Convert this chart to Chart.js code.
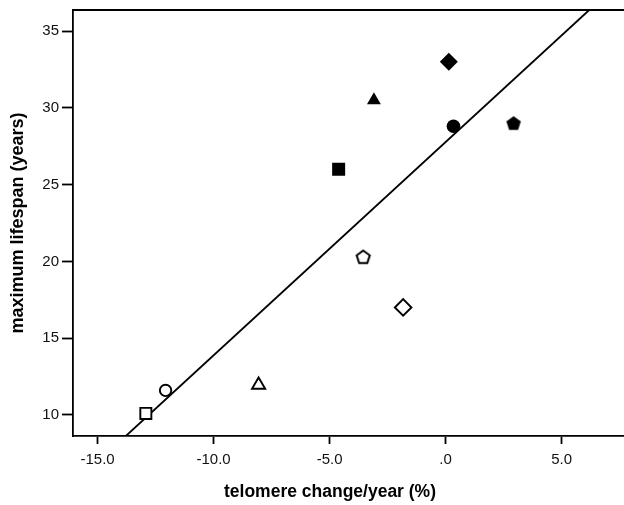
<!DOCTYPE html>
<html>
<head>
<meta charset="utf-8">
<script src="https://cdn.jsdelivr.net/npm/chart.js@4/dist/chart.umd.min.js"></script>
<style>
    html, body { margin: 0; padding: 0; background: #fff; overflow: hidden; }
    #wrap { width: 624px; height: 505px; }
</style>
</head>
<body>
<div id="wrap"><canvas id="scatter" width="624" height="505"></canvas></div>
<script>
// values
const telomereChange = [-12.92, -12.07, -8.06, -3.55, -1.83, -4.61, -3.09, 0.14, 0.34, 2.93];
const maxLifespan = [10.1, 11.6, 11.95, 20.3, 17.0, 26.0, 30.5, 33.0, 28.8, 29.0];
const fitLineX = [-13.78, 6.19];
const fitLineY = [8.63, 36.37];
const xTicks = [-15, -10, -5, 0, 5];
const xTickLabels = ['-15.0', '-10.0', '-5.0', '.0', '5.0'];
const yTicks = [10, 15, 20, 25, 30, 35];
const xTitle = 'telomere change/year (%)';
const yTitle = 'maximum lifespan (years)';

// marker look for each point (same order as the values)
const markerShape = ['rect', 'circle', 'triangle', 'pentagon', 'rectRot', 'rect', 'triangle', 'rectRot', 'circle', 'pentagon'];
const markerFilled = [false, false, false, false, false, true, true, true, true, true];
const markerRadius = [7.8, 5.7, 7.6, 7.5, 8.3, 9.2, 8, 9, 6.8, 7.6];

function makePentagon(R, filled) {
    const c = document.createElement('canvas');
    c.width = 20;
    c.height = 20;
    const g = c.getContext('2d');
    const cx = 10, cy = 10 + 0.095 * R;
    g.beginPath();
    for (let i = 0; i < 5; i++) {
        const a = -Math.PI / 2 + i * 2 * Math.PI / 5;
        const px = cx + R * Math.cos(a), py = cy + R * Math.sin(a);
        if (i === 0) g.moveTo(px, py); else g.lineTo(px, py);
    }
    g.closePath();
    if (filled) {
        g.fillStyle = '#000';
        g.fill();
    } else {
        g.fillStyle = '#fff';
        g.fill();
        g.lineWidth = 2;
        g.strokeStyle = '#000';
        g.stroke();
    }
    return c;
}

const datasets = [];
for (let i = 0; i < telomereChange.length; i++) {
    let style = markerShape[i];
    if (style === 'pentagon') {
        style = makePentagon(markerRadius[i] - (markerFilled[i] ? 0 : 0.6), markerFilled[i]);
    }
    datasets.push({
        data: [{ x: telomereChange[i], y: maxLifespan[i] }],
        pointStyle: style,
        pointRadius: markerRadius[i],
        pointBackgroundColor: markerFilled[i] ? '#000' : '#fff',
        pointBorderColor: '#000',
        pointBorderWidth: markerFilled[i] ? 0 : 1.9
    });
}
datasets.push({
    data: fitLineX.map((x, i) => ({ x: x, y: fitLineY[i] })),
    showLine: true,
    borderColor: '#000',
    borderWidth: 1.8,
    pointRadius: 0
});

const frame = {
    id: 'frame',
    afterDraw(chart) {
        const ctx = chart.ctx;
        const a = chart.chartArea;
        ctx.save();
        ctx.strokeStyle = '#000';
        ctx.lineWidth = 1.8;
        ctx.beginPath();
        ctx.moveTo(a.left, a.top);
        ctx.lineTo(a.right, a.top);
        ctx.stroke();
        // x axis title (centred like the original figure)
        ctx.fillStyle = '#000';
        ctx.font = 'bold 17.5px "Liberation Sans", Arial, sans-serif';
        ctx.textAlign = 'center';
        ctx.textBaseline = 'middle';
        ctx.fillText(xTitle, 330, 492);
        ctx.restore();
    }
};

const tickFont = { family: '"Liberation Sans", Arial, sans-serif', size: 15 };

new Chart(document.getElementById('scatter'), {
    type: 'scatter',
    data: { datasets: datasets },
    options: {
        responsive: false,
        animation: false,
        layout: { autoPadding: false, padding: { top: 10, right: 0, bottom: 0, left: 0 } },
        plugins: { legend: { display: false }, tooltip: { enabled: false } },
        scales: {
            x: {
                min: -16.06,
                max: 7.69,
                afterBuildTicks: (scale) => { scale.ticks = xTicks.map(v => ({ value: v })); },
                afterFit: (scale) => { scale.height = 69; scale.paddingLeft = 0; scale.paddingRight = 0; },
                ticks: {
                    font: tickFont,
                    color: '#111',
                    padding: 7,
                    maxRotation: 0,
                    callback: (v) => xTickLabels[xTicks.indexOf(v)]
                },
                grid: { drawOnChartArea: false, drawTicks: true, tickLength: 8, tickColor: '#000', tickWidth: 1.8 },
                border: { display: true, color: '#000', width: 1.8 }
            },
            y: {
                min: 8.63,
                max: 36.37,
                afterBuildTicks: (scale) => { scale.ticks = yTicks.map(v => ({ value: v })); },
                afterFit: (scale) => { scale.width = 73; scale.paddingTop = 0; scale.paddingBottom = 0; },
                ticks: { font: tickFont, color: '#111', padding: 3 },
                grid: { drawOnChartArea: false, drawTicks: true, tickLength: 11, tickColor: '#000', tickWidth: 1.8 },
                border: { display: true, color: '#000', width: 1.8 },
                title: {
                    display: true,
                    text: yTitle,
                    color: '#000',
                    font: { family: '"Liberation Sans", Arial, sans-serif', size: 18, weight: 'bold' },
                    padding: { top: 7, bottom: 0 }
                }
            }
        }
    },
    plugins: [frame]
});
</script>
</body>
</html>
